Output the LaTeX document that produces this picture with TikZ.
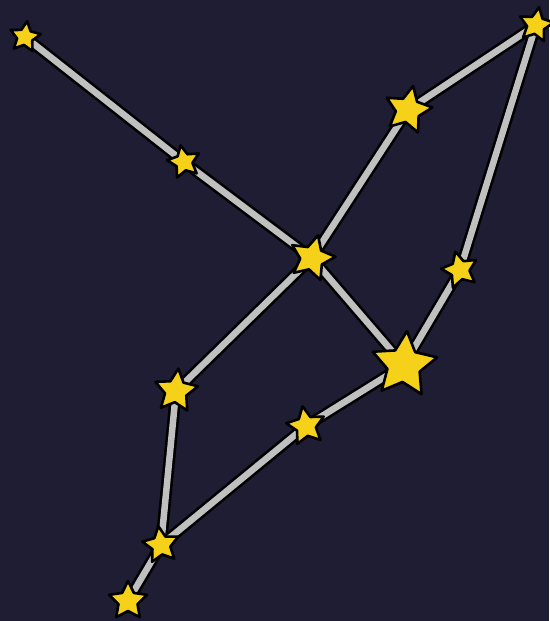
\documentclass[tikz,border=0pt]{standalone}
\usetikzlibrary{shapes.geometric,backgrounds}

\definecolor{nightsky}{RGB}{31,29,51}
\definecolor{staryellow}{RGB}{245,210,25}
\definecolor{linkgray}{RGB}{192,192,192}

\begin{document}
\begin{tikzpicture}[x=1pt,y=-1pt]
\tikzset{
  starnode/.style={star,star points=5,star point ratio=2.0,draw=black,line width=2.6pt,line join=round,fill=staryellow,inner sep=0pt,minimum size=#1},
  link/.style={draw=black,line width=2.6pt,double=linkgray,double distance=6.5pt,line cap=round}
}
\useasboundingbox (0,0) rectangle (549,621);
\node[starnode=32pt,rotate=-8] (s_A) at (25,37) {};
\node[starnode=34pt,rotate=12] (s_B) at (184,162) {};
\node[starnode=47pt,rotate=-15] (s_C) at (312,258) {};
\node[starnode=49pt,rotate=-12] (s_D) at (408,110) {};
\node[starnode=36pt,rotate=-10] (s_E) at (536,25) {};
\node[starnode=38pt,rotate=14] (s_F) at (460,270) {};
\node[starnode=68pt,rotate=-5] (s_G) at (404,365) {};
\node[starnode=40pt,rotate=10] (s_H) at (306,426) {};
\node[starnode=45pt,rotate=-6] (s_I) at (176,391) {};
\node[starnode=38pt,rotate=8] (s_J) at (161,545) {};
\node[starnode=40pt,rotate=0] (s_K) at (128,601) {};
\begin{scope}[on background layer]
\fill[nightsky] (0,0) rectangle (549,621);
\draw[link] (s_A.center) -- (s_B.center);
\draw[link] (s_B.center) -- (s_C.center);
\draw[link] (s_C.center) -- (s_D.center);
\draw[link] (s_D.center) -- (s_E.center);
\draw[link] (s_E.center) -- (s_F.center);
\draw[link] (s_F.center) -- (s_G.center);
\draw[link] (s_C.center) -- (s_G.center);
\draw[link] (s_C.center) -- (s_I.center);
\draw[link] (s_I.center) -- (s_J.center);
\draw[link] (s_J.center) -- (s_H.center);
\draw[link] (s_H.center) -- (s_G.center);
\draw[link] (s_J.center) -- (s_K.center);
\end{scope}
\end{tikzpicture}
\end{document}
